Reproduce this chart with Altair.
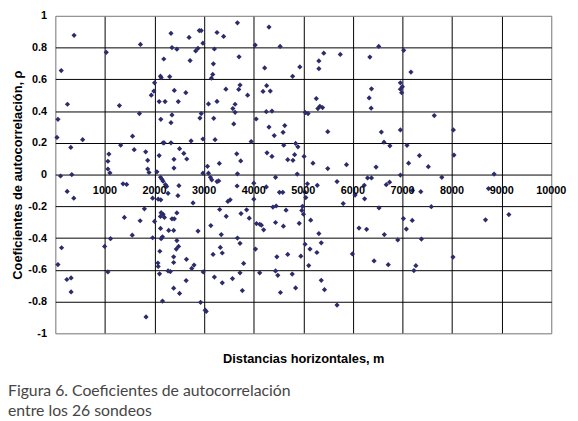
import altair as alt
import pandas as pd

# Distance (m) and autocorrelation coefficient
DIST = [378, 1716, 1027, 2332, 2352, 2451, 2187, 119, 2120, 2135, 2306, 2001, 1988, 1935, 2399,
        2094, 2213, 2479, 245, 1292, 1696, 53, 2127, 2352, 2332, 33, 551, 312, 1557, 1318,
        1590, 2173, 2193, 2332, 2505, 1080, 1060, 1060, 1100, 1822, 1862, 1862, 1889, 2094, 2392,
        2392, 2048, 105, 332, 2121,
        3672, 4308, 2903, 2942, 2697, 3260, 3393, 2976, 4030, 4533, 2876, 2830, 3207, 2717, 3704,
        3187, 4221, 4930, 4785, 3174, 3147, 3724, 3698, 3439, 4261, 4188, 4334, 2631, 3877, 3088,
        3260, 3625, 3579, 3625, 2942, 2916, 3194, 3598, 4050, 4254, 4368, 4308, 4626, 4592, 4414,
        2737, 2976, 3221, 3950, 2591, 2650, 3658, 3738, 3307, 3068, 2976, 3088, 3672, 4268, 4368,
        4606, 4845, 4891, 4825, 4686, 4791, 4877, 4440, 3127,
        6521, 7024, 5413, 5746, 6342, 5314, 5314, 7170, 6958, 6998, 6958, 6984, 6375, 6328, 6368,
        5262, 5334, 5294, 5388, 5043, 5096, 5493, 6574, 6958, 6627, 6746, 7091, 7342, 5016, 5195,
        5493, 5871, 6467, 7123, 7521, 6958, 6296, 6375,
        7641, 8026, 8038, 7793, 8847,
        239, 372, 1365, 1438, 2150, 2173, 2220, 2245, 2273, 2492, 1962, 2074, 2127, 1796, 1392,
        1710, 2001, 2133, 2173, 2120, 2200, 2352, 2399, 2451, 2121, 2286, 2386, 1551, 1962, 2160,
        2133, 1113, 994, 126, 2451, 2485, 2439, 2107, 2386, 2386, 53, 2068, 2074, 2273, 2319,
        2101, 1060, 232, 318, 318, 2386, 2505, 2161, 1829, 2472,
        3154, 3260, 3294, 4002, 4254, 3665, 4519, 4586, 2777, 3525, 3479, 4002, 3314, 3446, 3744,
        3857, 3910, 4387, 4453, 4652, 4056, 4122, 4155, 4201, 4440, 4599, 4918, 3135, 2877, 3346,
        3672, 3724, 3327, 4036, 3181, 3366, 4467, 4686, 4950, 2644, 3797, 2797, 2750, 2982, 3207,
        3724, 4121, 4440, 4486, 4777, 3572, 3366, 2638, 3771, 4539, 4845, 2929, 3022, 3042,
        5083, 5282, 5680, 6044, 6229, 6236, 6673, 6740, 7369, 5030, 5050, 4984, 4970, 5004, 5805,
        6527, 5149, 7018, 7197, 7078, 6123, 6276, 5314, 6634, 6905, 7382, 5036, 5362, 5135, 5274,
        5990, 5109, 6427, 6713, 7270, 7230, 5362, 5427, 5680, 7200,
        8734, 7581, 8674, 9145, 8018]

RHO = [0.877, 0.82, 0.77, 0.89, 0.80, 0.79, 0.728, 0.655, 0.62, 0.61, 0.617, 0.578, 0.526, 0.50, 0.53,
       0.46, 0.46, 0.46, 0.443, 0.435, 0.384, 0.348, 0.348, 0.376, 0.327, 0.234, 0.22, 0.171, 0.242, 0.185,
       0.157, 0.20, 0.20, 0.20, 0.163, 0.129, 0.084, 0.035, 0.01, 0.143, 0.09, 0.035, 0.013, 0.12, 0.096,
       0.041, 0.017, -0.009, 0.0, -0.017,
       0.956, 0.929, 0.907, 0.907, 0.864, 0.895, 0.87, 0.828, 0.816, 0.807, 0.795, 0.779, 0.791, 0.718, 0.742,
       0.698, 0.672, 0.678, 0.619, 0.631, 0.607, 0.564, 0.536, 0.538, 0.56, 0.524, 0.526, 0.516, 0.50, 0.445,
       0.461, 0.443, 0.416, 0.392, 0.384, 0.356, 0.354, 0.319, 0.35, 0.396, 0.40, 0.299, 0.309, 0.266, 0.246,
       0.212, 0.224, 0.22, 0.208, 0.133, 0.098, 0.131, 0.086, 0.07, 0.052, 0.009, 0.009, 0.005, 0.137, 0.114,
       0.185, 0.196, 0.175, 0.125, 0.094, 0.09, 0.003, -0.017, -0.017,
       0.807, 0.783, 0.765, 0.757, 0.74, 0.716, 0.667, 0.646, 0.578, 0.554, 0.538, 0.516, 0.54, 0.483, 0.418,
       0.479, 0.43, 0.416, 0.422, 0.39, 0.384, 0.27, 0.268, 0.281, 0.204, 0.181, 0.184, 0.12, 0.114, 0.072,
       0.038, 0.062, 0.047, 0.072, 0.05, -0.003, -0.021, -0.021,
       0.372, 0.281, 0.123, -0.017, 0.003,
       -0.106, -0.149, -0.058, -0.062, -0.03, -0.042, -0.064, -0.075, -0.118, -0.07, -0.149, -0.155, -0.159, -0.216, -0.27,
       -0.291, -0.295, -0.24, -0.25, -0.264, -0.27, -0.279, -0.279, -0.242, -0.339, -0.352, -0.352, -0.382, -0.398, -0.392,
       -0.404, -0.404, -0.453, -0.461, -0.416, -0.453, -0.469, -0.483, -0.518, -0.554, -0.567, -0.557, -0.579, -0.607, -0.611,
       -0.625, -0.613, -0.661, -0.651, -0.739, -0.716, -0.749, -0.797, -0.897, -0.133,
       -0.033, -0.044, -0.04, -0.054, -0.078, -0.072, -0.112, -0.112, -0.179, -0.159, -0.169, -0.155, -0.22, -0.263, -0.246,
       -0.222, -0.275, -0.205, -0.198, -0.224, -0.309, -0.313, -0.319, -0.348, -0.302, -0.325, -0.307, -0.321, -0.356, -0.378,
       -0.40, -0.433, -0.459, -0.469, -0.503, -0.494, -0.518, -0.503, -0.514, -0.534, -0.56, -0.57, -0.591, -0.613, -0.646,
       -0.619, -0.619, -0.607, -0.635, -0.627, -0.655, -0.682, -0.668, -0.731, -0.743, -0.714, -0.805, -0.854, -0.862,
       -0.058, -0.068, -0.044, -0.129, -0.068, -0.153, -0.064, -0.048, -0.108, -0.11, -0.145, -0.20, -0.226, -0.25, -0.183,
       -0.21, -0.287, -0.277, -0.289, -0.343, -0.337, -0.345, -0.372, -0.378, -0.412, -0.406, -0.439, -0.43, -0.469, -0.491,
       -0.50, -0.573, -0.544, -0.568, -0.574, -0.605, -0.666, -0.725, -0.822, -0.10,
       -0.088, -0.202, -0.285, -0.252, -0.52]

X_GRID = [0, 1000, 2000, 3000, 4000, 5000, 6000, 7000, 8000, 9000, 10000]
X_LABELS = [1000, 2000, 3000, 4000, 5000, 6000, 7000, 8000, 9000, 10000]
Y_TICKS = [-1, -0.8, -0.6, -0.4, -0.2, 0, 0.2, 0.4, 0.6, 0.8, 1]
X_TITLE = "Distancias horizontales, m"
Y_TITLE = "Coeficientes de autocorrelación, ρ"
CAPTION = ["Figura 6. Coeficientes de autocorrelación", "entre los 26 sondeos"]

FONT = "Liberation Sans"
BORDER = "#808080"

df = pd.DataFrame({"d": DIST, "r": RHO})
lab_df = pd.DataFrame({"d": X_LABELS, "r": [0] * len(X_LABELS)})
cap_df = pd.DataFrame({"t": ["\n".join(CAPTION)]})

xs = alt.Scale(domain=[0, 10000], nice=False, zero=False)
ys = alt.Scale(domain=[-1, 1], nice=False, zero=False)

x_axis = alt.Axis(
    values=X_GRID, labels=False, ticks=False, domain=False, grid=True,
    gridColor={"condition": {"test": "datum.value == 0 || datum.value == 10000", "value": BORDER},
               "value": "#000000"},
    gridWidth=1,
    title=X_TITLE, titleFont=FONT, titleFontSize=13, titleFontWeight="bold",
    titleColor="#000000", titlePadding=20)

y_axis = alt.Axis(
    values=Y_TICKS, labelExpr="toString(datum.value)", ticks=False, domain=False, grid=True,
    gridColor={"condition": {"test": "abs(datum.value) == 1", "value": BORDER},
               "value": "#000000"},
    gridWidth=1,
    labelFont=FONT, labelFontSize=11, labelFontWeight="bold", labelColor="#000000",
    labelPadding=9,
    title=Y_TITLE, titleFont=FONT, titleFontSize=13, titleFontWeight="bold",
    titleColor="#000000", titlePadding=3)

points = alt.Chart(df).mark_point(
    shape="diamond", filled=True, size=28, color="#2c2c6c", opacity=1
).encode(
    x=alt.X("d:Q", scale=xs, axis=x_axis),
    y=alt.Y("r:Q", scale=ys, axis=y_axis),
)

xlabels = alt.Chart(lab_df).mark_text(
    dy=17, font=FONT, fontSize=11, fontWeight="bold", color="#000000"
).encode(
    x=alt.X("d:Q", scale=xs, axis=x_axis),
    y=alt.Y("r:Q", scale=ys, axis=y_axis),
    text=alt.Text("d:Q", format="d"),
)

caption = alt.Chart(cap_df).mark_text(
    align="left", baseline="alphabetic", font="Lato", fontSize=16, color="#454545",
    lineBreak="\n", lineHeight=20
).encode(
    x=alt.value(-48), y=alt.value(386), text="t:N"
)

chart = alt.layer(points, xlabels, caption).properties(
    width=503, height=322,
    autosize=alt.AutoSizeParams(type="none"),
    padding={"left": 48, "top": 5, "right": 19, "bottom": 86},
).configure_view(stroke=BORDER, strokeWidth=1).configure(background="white")

chart.save("out.html", embed_options={"renderer": "svg", "actions": False})
